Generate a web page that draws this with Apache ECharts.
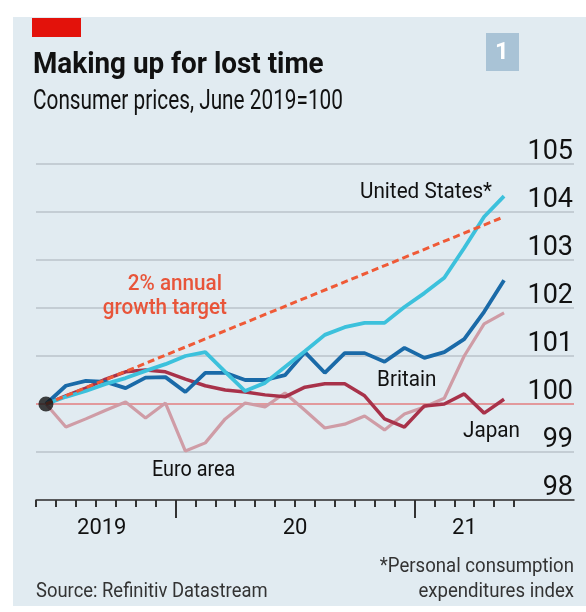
<!DOCTYPE html>
<html>
<head>
<meta charset="utf-8">
<script src="https://cdn.jsdelivr.net/npm/echarts@6/dist/echarts.min.js"></script>
<style>
  html, body { margin: 0; padding: 0; background: #fff; }
  #main { width: 586px; height: 612px; }
</style>
</head>
<body>
<div id="main"></div>
<script>
// monthly data, June 2019 = 100
var months = ['Jun 2019', 'Jul 2019', 'Aug 2019', 'Sep 2019', 'Oct 2019', 'Nov 2019', 'Dec 2019',
  'Jan 2020', 'Feb 2020', 'Mar 2020', 'Apr 2020', 'May 2020', 'Jun 2020', 'Jul 2020', 'Aug 2020',
  'Sep 2020', 'Oct 2020', 'Nov 2020', 'Dec 2020', 'Jan 2021', 'Feb 2021', 'Mar 2021', 'Apr 2021', 'May 2021'];
var usValues = [100.0, 100.15, 100.27, 100.42, 100.54, 100.69, 100.83, 101.0, 101.08, 100.67, 100.27, 100.44,
  100.77, 101.1, 101.44, 101.6, 101.69, 101.69, 102.02, 102.31, 102.63, 103.25, 103.9, 104.33];
var britainValues = [100.0, 100.38, 100.48, 100.46, 100.33, 100.55, 100.56, 100.25, 100.65, 100.65, 100.5, 100.5,
  100.6, 101.08, 100.65, 101.06, 101.06, 100.88, 101.17, 100.96, 101.08, 101.35, 101.92, 102.58];
var japanValues = [100.0, 100.17, 100.33, 100.52, 100.67, 100.71, 100.67, 100.52, 100.38, 100.29, 100.25, 100.19,
  100.15, 100.35, 100.42, 100.42, 100.17, 99.69, 99.52, 99.96, 100.0, 100.21, 99.81, 100.1];
var euroValues = [100.0, 99.52, 99.69, 99.87, 100.04, 99.71, 100.02, 99.02, 99.19, 99.69, 100.02, 99.94,
  100.23, 99.87, 99.5, 99.58, 99.75, 99.46, 99.79, 99.94, 100.12, 101.0, 101.67, 101.9];
var targetValues = [100, 103.9];   // 2% a year, first and last month
var baseValue = 100;
var yMin = 98, yMax = 105;
var yearLabels = ['2019', '20', '21'];
var yearLabelPos = [3.3, 13, 21.5];   // in months from June 2019
var yearTicks = [7, 19];
var monthSpan = 27;                   // axis runs past the last month

var sans = 'Roboto, sans-serif';

var dom = document.getElementById('main');
var myChart = echarts.init(dom);

// condensed-looking text: Roboto squeezed a little
function label(text, x, y, color, align, size, squeeze, weight) {
  return {
    type: 'text', x: x, y: y, z: 100, scaleX: squeeze || 0.94,
    style: {
      text: text, fill: color || '#111', font: (weight || 'normal') + ' ' + (size || 22) + 'px ' + sans,
      align: align || 'left', verticalAlign: 'middle'
    }
  };
}

var option = {
  backgroundColor: '#fff',
  animation: false,
  graphic: [
    { type: 'rect', z: -10, shape: { x: 13, y: 17, width: 573, height: 589 }, style: { fill: '#e1ebf1' } },
    { type: 'rect', shape: { x: 32, y: 18, width: 49, height: 19 }, style: { fill: '#e3120b' } },
    { type: 'rect', shape: { x: 486, y: 33, width: 33, height: 38 }, style: { fill: '#a9c3d6' } },
    { type: 'text', x: 502, y: 53, style: { text: '1', fill: '#fff', font: 'bold 24px ' + sans, align: 'center', verticalAlign: 'middle' } },
    label('Making up for lost time', 33, 66, '#111', 'left', 29, 0.96, 'bold'),
    label('Consumer prices, June 2019=100', 33, 102, '#111', 'left', 27, 0.77),
    label('United States*', 492, 192, '#111', 'right'),
    label('2% annual', 222, 284, '#e8553a', 'right', 22, 0.94, 500),
    label('growth target', 227, 308, '#e8553a', 'right', 22, 0.94, 500),
    label('Britain', 377, 380),
    label('Japan', 463, 431),
    label('Euro area', 152, 470, '#111', 'left', 22, 0.9),
    label('*Personal consumption', 574, 567, '#333', 'right', 20, 0.93),
    label('expenditures index', 574, 592, '#333', 'right', 20, 0.93),
    label('Source: Refinitiv Datastream', 36, 592, '#333', 'left', 20, 0.92)
  ],
  grid: [
    { left: 36, right: 72, top: 164, bottom: 112 },
    { left: 36, right: 12, top: 164, bottom: 112 }
  ],
  xAxis: [
    {
      type: 'category', gridIndex: 0, data: months, boundaryGap: true,
      axisLine: { show: false },
      axisTick: { show: true, interval: 0, length: 7, lineStyle: { color: '#333', width: 2 } },
      axisLabel: { show: false },
      splitLine: { show: false }
    },
    {
      type: 'value', gridIndex: 1, min: 0, max: monthSpan,
      axisLine: { show: true, lineStyle: { color: '#333', width: 1.5 } },
      axisTick: { show: true, customValues: yearTicks, length: 18, lineStyle: { color: '#333', width: 2 } },
      axisLabel: {
        show: true, customValues: yearLabelPos, margin: 17,
        fontFamily: sans, fontSize: 22, color: '#111',
        formatter: function (v) { return yearLabels[yearLabelPos.indexOf(v)]; }
      },
      splitLine: { show: false }
    }
  ],
  yAxis: [
    { type: 'value', gridIndex: 0, min: yMin, max: yMax, show: false },
    {
      type: 'value', gridIndex: 1, min: yMin, max: yMax, interval: 1, position: 'right',
      axisLine: { show: false },
      axisTick: { show: false },
      axisLabel: {
        inside: true, margin: 1, verticalAlign: 'bottom', lineHeight: 24,
        fontFamily: sans, fontSize: 27, color: '#111'
      },
      splitLine: { show: true, lineStyle: { color: '#c4cdd4', width: 2 } }
    }
  ],
  series: [
    {
      name: 'base', type: 'line', xAxisIndex: 1, yAxisIndex: 1, silent: true, symbol: 'none',
      data: [[0, baseValue], [monthSpan, baseValue]],
      lineStyle: { color: '#e2999c', width: 2 }, z: 1
    },
    {
      name: 'Euro area', type: 'line', data: euroValues, symbol: 'none',
      lineStyle: { color: '#cf9ca6', width: 3.2 }, z: 2
    },
    {
      name: 'Japan', type: 'line', data: japanValues, symbol: 'none',
      lineStyle: { color: '#a8324a', width: 3.5 }, z: 3
    },
    {
      name: 'Britain', type: 'line', data: britainValues, symbol: 'none',
      lineStyle: { color: '#1a6aa8', width: 3.8 }, z: 4
    },
    {
      name: 'United States', type: 'line', data: usValues, symbol: 'none',
      lineStyle: { color: '#3cc1dc', width: 3.8 }, z: 5
    },
    {
      name: 'target', type: 'line', symbol: 'none',
      data: [[months[0], targetValues[0]], [months[months.length - 1], targetValues[1]]],
      lineStyle: { color: '#ef5a37', width: 3, type: [7, 4] }, z: 6
    },
    {
      name: 'start', type: 'scatter', data: [[months[0], baseValue]],
      symbolSize: 15, itemStyle: { color: '#111' }, z: 7
    }
  ]
};

if (option && typeof option === 'object') {
  myChart.setOption(option, true);
}
</script>
</body>
</html>
